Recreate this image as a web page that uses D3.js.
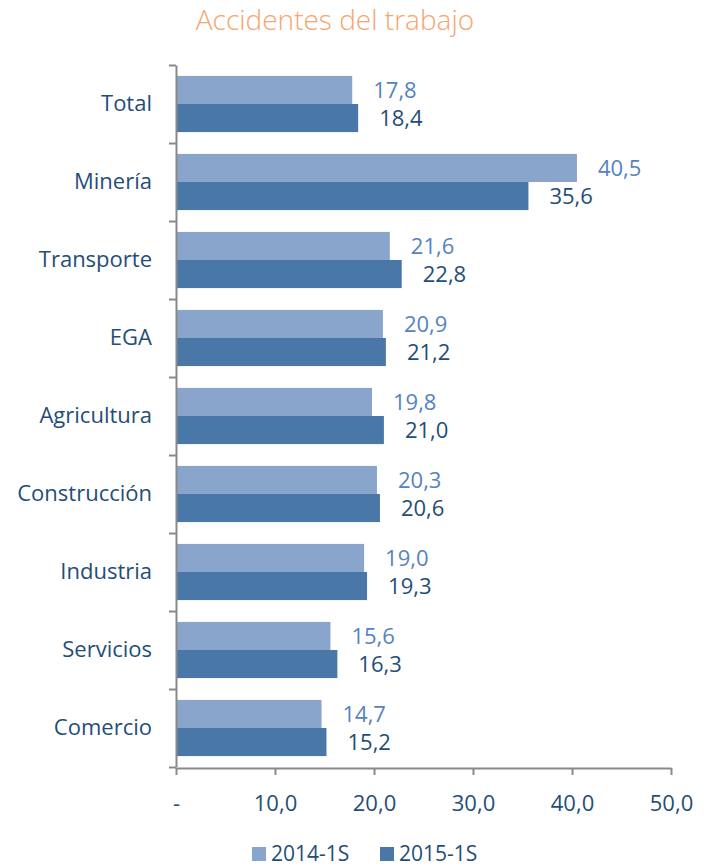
<!DOCTYPE html>
<html>
<head>
<meta charset="utf-8">
<script src="https://cdn.jsdelivr.net/npm/d3@7"></script>
<style>
  body { margin: 0; background: #fff; }
  svg { font-family: "Open Sans", sans-serif; }
</style>
</head>
<body>
<script>
const categories = ["Total", "Minería", "Transporte", "EGA", "Agricultura", "Construcción", "Industria", "Servicios", "Comercio"];
const series2014 = [17.8, 40.5, 21.6, 20.9, 19.8, 20.3, 19.0, 15.6, 14.7];
const series2015 = [18.4, 35.6, 22.8, 21.2, 21.0, 20.6, 19.3, 16.3, 15.2];
const seriesNames = ["2014-1S", "2015-1S"];
const xTicks = [0, 10, 20, 30, 40, 50];

const width = 706;
const height = 867;
const barColors = ["#89a5cb", "#4877a8"];
const labelColors = ["#5583bf", "#1f4e79"];
const textColor = "#1f4e79";
const axisColor = "#898989";

const locale = d3.formatLocale({ decimal: ",", thousands: ".", grouping: [3], currency: ["", ""] });
const fmt = locale.format(".1f");

const svg = d3
  .select("body")
  .append("svg")
  .attr("width", width)
  .attr("height", height);

// title
svg
  .append("text")
  .attr("x", 335)
  .attr("y", 30)
  .attr("text-anchor", "middle")
  .attr("font-size", 28)
  .attr("font-weight", 300)
  .attr("fill", "#f5a56e")
  .text("Accidentes del trabajo");

const x = d3.scaleLinear().domain([0, 50]).range([176, 671]);
const y = d3
  .scaleBand()
  .domain(categories)
  .range([65, 767])
  .paddingInner(0.28)
  .paddingOuter(0.14);
const ySub = d3.scaleBand().domain([0, 1]).range([0, y.bandwidth()]);

const rows = categories.map((c, i) => ({ cat: c, values: [series2014[i], series2015[i]] }));

const groups = svg
  .selectAll("g.row")
  .data(rows)
  .enter()
  .append("g")
  .attr("class", "row")
  .attr("transform", (d) => `translate(0, ${y(d.cat)})`);

groups
  .selectAll("rect")
  .data((d) => d.values)
  .enter()
  .append("rect")
  .attr("x", x(0))
  .attr("y", (d, i) => ySub(i))
  .attr("width", (d) => x(d) - x(0))
  .attr("height", ySub.bandwidth())
  .attr("fill", (d, i) => barColors[i]);

groups
  .selectAll("text")
  .data((d) => d.values)
  .enter()
  .append("text")
  .attr("x", (d) => x(d) + 21)
  .attr("y", (d, i) => ySub(i) + ySub.bandwidth() / 2)
  .attr("dy", "0.35em")
  .attr("font-size", 22)
  .attr("fill", (d, i) => labelColors[i])
  .text((d) => fmt(d));

// y axis: labels at band centres, ticks at band boundaries
const yLabels = svg
  .append("g")
  .attr("transform", `translate(${x(0)}, 0)`)
  .call(d3.axisLeft(y).tickSize(0).tickPadding(24));
yLabels.select(".domain").remove();
yLabels
  .selectAll("text")
  .attr("font-size", 22)
  .attr("font-family", "Open Sans, sans-serif")
  .attr("fill", textColor);

const yIdx = d3.scaleLinear().domain([0, categories.length]).range([65, 767]);
const yTicks = svg
  .append("g")
  .attr("transform", `translate(${x(0)}, 0)`)
  .call(
    d3
      .axisLeft(yIdx)
      .tickValues(d3.range(categories.length + 1))
      .tickSize(7)
      .tickSizeOuter(0)
      .tickFormat("")
  );
yTicks.selectAll("line, path").attr("stroke", axisColor).attr("stroke-width", 2);

// x axis
const xAxis = svg
  .append("g")
  .attr("transform", `translate(0, 768)`)
  .call(
    d3
      .axisBottom(x)
      .tickValues(xTicks)
      .tickSize(7)
      .tickSizeOuter(0)
      .tickPadding(20)
      .tickFormat((d) => (d === 0 ? "-" : fmt(d)))
  );
xAxis.selectAll("line, path").attr("stroke", axisColor).attr("stroke-width", 2);
xAxis
  .selectAll("text")
  .attr("font-size", 22)
  .attr("font-family", "Open Sans, sans-serif")
  .attr("fill", textColor);

// legend
const legendX = [252, 380];
const legend = svg
  .selectAll("g.legend")
  .data(seriesNames)
  .enter()
  .append("g")
  .attr("class", "legend")
  .attr("transform", (d, i) => `translate(${legendX[i]}, 847)`);
legend
  .append("rect")
  .attr("width", 14)
  .attr("height", 14)
  .attr("fill", (d, i) => barColors[i]);
legend
  .append("text")
  .attr("x", 19)
  .attr("y", 14)
  .attr("font-size", 21)
  .attr("fill", textColor)
  .text((d) => d);
</script>
</body>
</html>
